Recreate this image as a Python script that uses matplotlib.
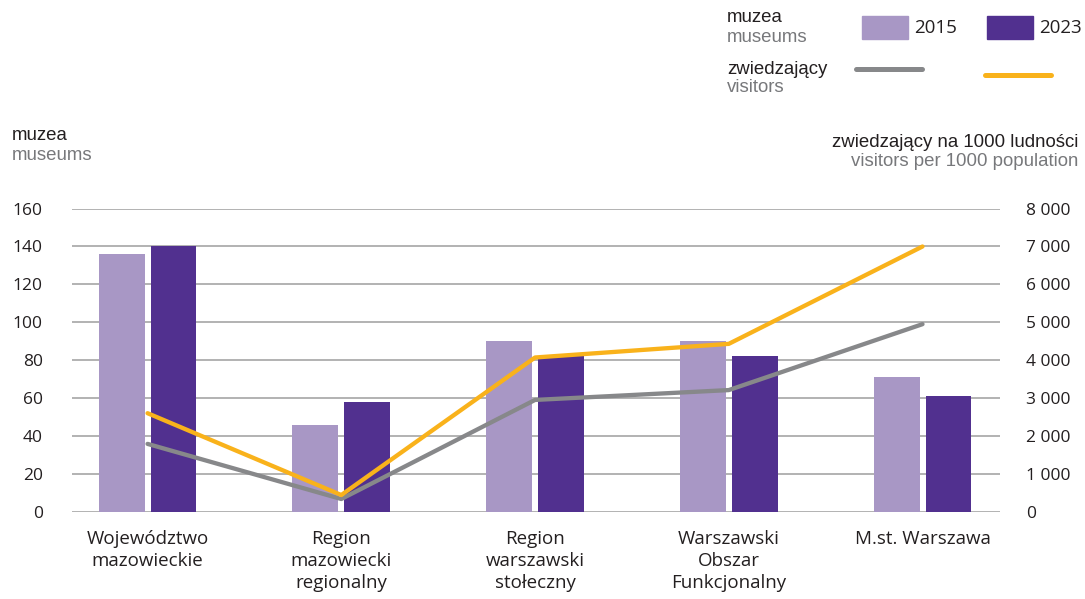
import matplotlib.pyplot as plt
import numpy as np

# dane
regiony = ['Województwo\nmazowieckie', 'Region\nmazowiecki\nregionalny', 'Region\nwarszawski\nstołeczny',
           'Warszawski\nObszar\nFunkcjonalny', 'M.st. Warszawa']
muzea_2015 = [136, 46, 90, 90, 71]
muzea_2023 = [140, 58, 82, 82, 61]
zwiedzajacy_2015 = [1790, 335, 2950, 3210, 4950]
zwiedzajacy_2023 = [2600, 440, 4070, 4430, 7000]

c15 = '#A897C5'
c23 = '#51308F'
c_gray = '#87888A'
c_orange = '#F9B21B'
tick_font = 'Open Sans'
head_font = 'Liberation Sans'
hs = 13.4  # rozmiar nagłówków

fig = plt.figure(figsize=(10.85, 5.99), dpi=100)
ax = fig.add_axes([72 / 1085, 1 - 511.7 / 599, (1000 - 72) / 1085, (511.7 - 208.6) / 599])
ax2 = ax.twinx()

x = np.arange(len(regiony))
w = 0.237
off = 0.134
ax.bar(x - off, muzea_2015, w, color=c15, zorder=2)
ax.bar(x + off, muzea_2023, w, color=c23, zorder=2)

ax.set_xlim(-0.39, 4.4)
ax.set_ylim(0, 160)
ax.set_yticks(range(0, 161, 20))
ax.yaxis.grid(True, color='#A5A5A5', linewidth=1.2, zorder=0)
ax.set_axisbelow(True)
ax.set_xticks(x)
ax.set_xticklabels(regiony, fontsize=13.5, family=tick_font, color='#231F20', va='top', linespacing=1.28)
ax.tick_params(axis='x', length=0, pad=13)
ax.tick_params(axis='y', length=0, pad=21, labelsize=12.5, labelcolor='#231F20')
for lab in ax.get_yticklabels():
    lab.set_family(tick_font)

ax2.plot(x, zwiedzajacy_2015, color=c_gray, linewidth=3.1, solid_capstyle='round', zorder=3)
ax2.plot(x, zwiedzajacy_2023, color=c_orange, linewidth=3.1, solid_capstyle='round', zorder=4)
ax2.set_ylim(0, 8000)
ax2.set_yticks(range(0, 8001, 1000))
ax2.set_yticklabels([f'{v:,}'.replace(',', ' ') for v in range(0, 8001, 1000)],
                    family=tick_font, fontsize=12.5, color='#231F20')
ax2.tick_params(axis='y', length=0, pad=19)

for a in (ax, ax2):
    for s in a.spines.values():
        s.set_visible(False)

# nagłówki osi
fig.text(12 / 1085, 1 - 135 / 599, 'muzea', family=head_font, fontsize=hs, color='#231F20', va='center')
fig.text(12 / 1085, 1 - 155 / 599, 'museums', family=head_font, fontsize=hs, color='#77787B', va='center')
fig.text(1078 / 1085, 1 - 143 / 599, 'zwiedzający na 1000 ludności', family=head_font, fontsize=hs,
         color='#231F20', va='center', ha='right')
fig.text(1078 / 1085, 1 - 162 / 599, 'visitors per 1000 population', family=head_font, fontsize=hs,
         color='#77787B', va='center', ha='right')

# legenda
fig.text(727 / 1085, 1 - 17 / 599, 'muzea', family=head_font, fontsize=hs, color='#231F20', va='center')
fig.text(727 / 1085, 1 - 37 / 599, 'museums', family=head_font, fontsize=hs, color='#77787B', va='center')
fig.text(727 / 1085, 1 - 69 / 599, 'zwiedzający', family=head_font, fontsize=hs, color='#231F20', va='center')
fig.text(727 / 1085, 1 - 88 / 599, 'visitors', family=head_font, fontsize=hs, color='#77787B', va='center')

fig.patches.append(plt.Rectangle((862 / 1085, 1 - 39 / 599), 46 / 1085, 23 / 599,
                                 transform=fig.transFigure, color=c15))
fig.patches.append(plt.Rectangle((987 / 1085, 1 - 39 / 599), 46 / 1085, 23 / 599,
                                 transform=fig.transFigure, color=c23))
fig.text(914 / 1085, 1 - 28 / 599, '2015', family=tick_font, fontsize=13.5, color='#231F20', va='center')
fig.text(1039 / 1085, 1 - 28 / 599, '2023', family=tick_font, fontsize=13.5, color='#231F20', va='center')
fig.lines.append(plt.Line2D([856 / 1085, 922 / 1085], [1 - 69 / 599, 1 - 69 / 599], transform=fig.transFigure,
                            color=c_gray, linewidth=3.6, solid_capstyle='round'))
fig.lines.append(plt.Line2D([985 / 1085, 1051 / 1085], [1 - 75 / 599, 1 - 75 / 599], transform=fig.transFigure,
                            color=c_orange, linewidth=3.6, solid_capstyle='round'))

plt.savefig('out.png', dpi=100)
plt.close()
